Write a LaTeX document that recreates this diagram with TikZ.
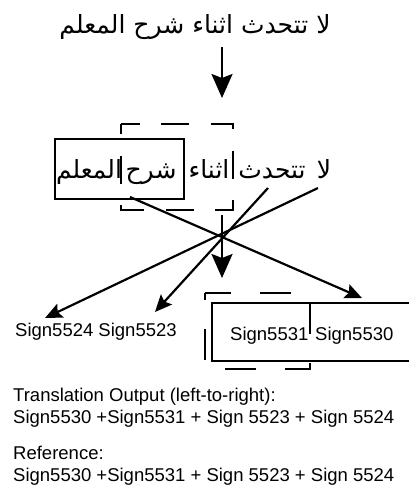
\documentclass[tikz,border=0pt]{standalone}
\usepackage{fontspec}
\setmainfont{Liberation Sans}
\newfontfamily\arabicfont[Script=Arabic]{DejaVu Sans}
\TeXXeTstate=1
\usetikzlibrary{arrows.meta}
\begin{document}
\begin{tikzpicture}[x=1pt,y=-1pt,
  ar/.style={font=\arabicfont\fontsize{25}{30}\selectfont, inner sep=0pt, anchor=base},
  lt/.style={font=\fontsize{18.5}{22}\selectfont, inner sep=0pt, anchor=base west},
  conn/.style={line width=2.2pt, -{Stealth[length=17pt,width=15pt,inset=3pt]}},
  bigarrow/.style={line width=2.4pt, -{Stealth[length=24pt,width=21pt,inset=4pt]}},
  solidbox/.style={draw, line width=2pt, inner sep=0pt},
  boxarea/.style={inner sep=0pt},
  dashline/.style={line width=2pt}]
\useasboundingbox (0,0) rectangle (408,491);

% top sentence
\node[ar] (top) at (195,33) {\beginR لا تتحدث اثناء شرح المعلم\endR};
\coordinate (a1) at (222,47);
\coordinate (a2) at (222,98);
\draw[bigarrow] (a1) -- (a2);

% segmented sentence
\node[ar] (w1) at (89,178) {\beginR المعلم\endR};
\node[ar] (w2) at (151,178) {\beginR شرح\endR};
\node[ar] (w3) at (209,178) {\beginR اثناء\endR};
\node[ar] (w4) at (272,178) {\beginR تتحدث\endR};
\node[ar] (w5) at (324,178) {\beginR لا\endR};

\node[solidbox, minimum width=129pt, minimum height=60pt] (sb1) at (119.5,169) {};
\node[boxarea, minimum width=112pt, minimum height=86pt] (db1) at (177,167) {};
\draw[dashline, dash pattern=on 28pt off 21.5pt, dash phase=9pt]
  (db1.north west) -- (db1.north east) -- (db1.south east) -- (db1.south west) -- cycle;

% output signs
\node[lt] (s1) at (15,336) {Sign5524 Sign5523};
\node[lt] (s2) at (230,340) {Sign5531};
\node[lt] (s3) at (315,340) {Sign5530};
\node[solidbox, minimum width=200pt, minimum height=58pt] (sb2) at (312,332) {};
\node[boxarea, minimum width=105pt, minimum height=76pt] (db2) at (257.5,331) {};
\draw[dashline, dash pattern=on 31pt off 29.3pt, dash phase=5pt]
  (db2.north west) -- (db2.north east) -- (db2.south east) -- (db2.south west) -- cycle;

% connectors
\coordinate (cA) at (130,197);
\coordinate (eA) at (362,298);
\coordinate (cB) at (268,188);
\coordinate (eB) at (155,312);
\coordinate (cC) at (318,188);
\coordinate (eC) at (45,318);
\coordinate (cD) at (222,215);
\coordinate (eD) at (222,278);
\draw[conn] (cA) -- (eA);
\draw[conn] (cB) -- (eB);
\draw[conn] (cC) -- (eC);
\draw[bigarrow] (cD) -- (eD);

% result text
\node[lt] (t1) at (13,401) {Translation Output (left-to-right):};
\node[lt] (t2) at (13,423) {Sign5530 +Sign5531 + Sign 5523 + Sign 5524};
\node[lt] (t3) at (13,459) {Reference:};
\node[lt] (t4) at (13,481) {Sign5530 +Sign5531 + Sign 5523 + Sign 5524};
\end{tikzpicture}
\end{document}
